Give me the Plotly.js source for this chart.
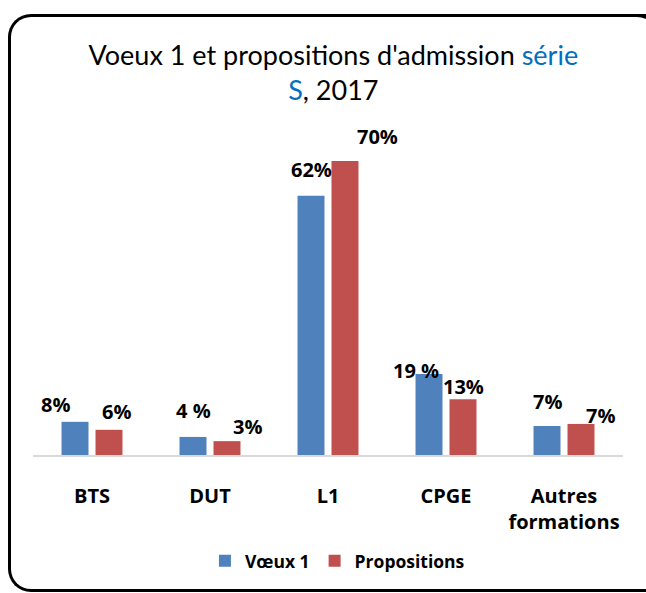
<!DOCTYPE html>
<html>
<head>
<meta charset="utf-8">
<script src="https://cdn.plot.ly/plotly-3.0.1.min.js"></script>
<style>
  html, body { margin:0; padding:0; background:#fff; overflow:hidden; }
  #wrap { position:relative; width:646px; height:593px; overflow:hidden; }
  #chart { position:absolute; left:0; top:0; width:646px; height:593px; }
  #frame { position:absolute; left:8px; top:14px; width:644px; height:578px;
           border:3px solid #000; border-right:none; border-radius:23px 0 0 23px;
           box-sizing:border-box; pointer-events:none; }
  #corner { position:absolute; left:622px; top:14px; width:40px; height:40px;
            border-top:3px solid #000; border-right:3px solid #000; border-top-right-radius:25px;
            box-sizing:border-box; pointer-events:none; }
</style>
</head>
<body>
<div id="wrap"><div id="chart"></div><div id="frame"></div><div id="corner"></div></div>
<script>
// ---- data ----
const categories = ['BTS', 'DUT', 'L1', 'CPGE', 'Autres<br>formations'];
const voeux = [7.9, 4.3, 61.7, 19.3, 6.9];
const propositions = [6.0, 3.3, 70.0, 13.3, 7.4];
const voeuxLabels = ['8%', '4 %', '62%', '19 %', '7%'];
const propLabels = ['6%', '3%', '70%', '13%', '7%'];
const seriesNames = ['Vœux 1', 'Propositions'];

// ---- label placement (styles, pixels) ----
const voeuxDx = [-37, -17, -17, -30, -17];
const voeuxDy = [17, 26, 26, 3, 25];
const propDx = [24, 37, 49, 17, 36];
const propDy = [18, 15, 25, 13, 8];

const blue = '#4F81BD', red = '#C0504D';
const TFONT = 'Lato, "Open Sans", sans-serif';
const BFONT = '"Open Sans", sans-serif';

const traces = [
  { type:'bar', name:seriesNames[0], x:categories, y:voeux, marker:{color:blue}, hoverinfo:'skip' },
  { type:'bar', name:seriesNames[1], x:categories, y:propositions, marker:{color:red}, hoverinfo:'skip' }
];

const annotations = [];
categories.forEach((c, i) => {
  annotations.push({ x:c, y:voeux[i], xref:'x', yref:'y', text:voeuxLabels[i], showarrow:false,
    xanchor:'center', yanchor:'middle', xshift:voeuxDx[i], yshift:voeuxDy[i],
    font:{family:BFONT, size:20, color:'#000', weight:'bold'} });
  annotations.push({ x:c, y:propositions[i], xref:'x', yref:'y', text:propLabels[i], showarrow:false,
    xanchor:'center', yanchor:'middle', xshift:propDx[i], yshift:propDy[i],
    font:{family:BFONT, size:20, color:'#000', weight:'bold'} });
});

const layout = {
  width:646, height:593,
  margin:{l:33, r:23, t:119, b:138, pad:0},
  paper_bgcolor:'#fff', plot_bgcolor:'#fff',
  font:{family:BFONT, color:'#000'},
  title:{
    text:'Voeux 1 et propositions d\'admission <span style="color:#0070C0">série</span><br><span style="color:#0070C0">S</span>, 2017',
    font:{family:TFONT, size:27, color:'#000'},
    xref:'container', x:0.516, xanchor:'center',
    yref:'container', y:0.891, yanchor:'top'
  },
  barmode:'group', bargap:0.424, bargroupgap:0.206,
  xaxis:{ type:'category', showline:true, linecolor:'#D9D9D9', linewidth:2, ticks:'',
          showgrid:false, zeroline:false, ticklabelstandoff:22,
          tickfont:{family:BFONT, size:20, color:'#000', weight:'bold'} },
  yaxis:{ range:[0, 80], visible:false, showgrid:false, zeroline:false },
  showlegend:true,
  legend:{ orientation:'h', x:0.516, xanchor:'center', y:-0.315, yanchor:'middle',
           font:{family:BFONT, size:17.5, color:'#000', weight:'bold'}, traceorder:'normal' },
  annotations:annotations
};

Plotly.newPlot('chart', traces, layout, {displayModeBar:false, staticPlot:true});
</script>
</body>
</html>
